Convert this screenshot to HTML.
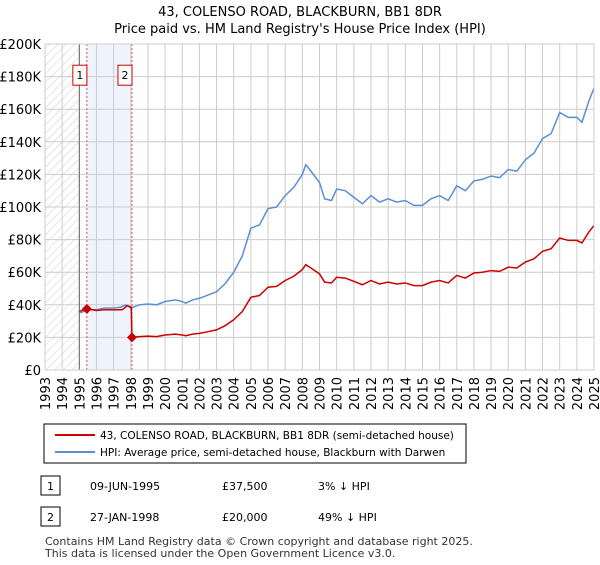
<!DOCTYPE html>
<html><head><meta charset="utf-8"><style>
body{margin:0;background:#fff;font-family:"Liberation Sans","DejaVu Sans",sans-serif;}
svg text{font-family:"DejaVu Sans","Liberation Sans",sans-serif;}
</style></head><body>
<svg width="600" height="560" viewBox="0 0 600 560" xmlns="http://www.w3.org/2000/svg">
<defs><pattern id="hatch" width="6" height="6" patternUnits="userSpaceOnUse" patternTransform="rotate(45)"><line x1="0" y1="0" x2="0" y2="6" stroke="#ccc" stroke-width="1"/></pattern></defs>
<text x="300" y="16" text-anchor="middle" font-size="13">43, COLENSO ROAD, BLACKBURN, BB1 8DR</text>
<text x="300" y="33" text-anchor="middle" font-size="13">Price paid vs. HM Land Registry's House Price Index (HPI)</text>
<g id="plot"></g>
<g>
<rect x="44" y="424" width="422" height="39" fill="#fff" stroke="#000" stroke-width="1"/>
<line x1="55" y1="435" x2="95" y2="435" stroke="#cc0000" stroke-width="2"/>
<text x="100" y="439" font-size="10.5">43, COLENSO ROAD, BLACKBURN, BB1 8DR (semi-detached house)</text>
<line x1="55" y1="452" x2="95" y2="452" stroke="#5b8fd4" stroke-width="2"/>
<text x="100" y="456" font-size="10.5">HPI: Average price, semi-detached house, Blackburn with Darwen</text>
</g>
<g font-size="11">
<rect x="41" y="476" width="19" height="19" fill="#fff" stroke="#000"/><text x="50.5" y="490" text-anchor="middle">1</text>
<text x="90" y="490">09-JUN-1995</text><text x="222" y="490">£37,500</text><text x="318" y="490">3% ↓ HPI</text>
<rect x="41" y="507" width="19" height="19" fill="#fff" stroke="#000"/><text x="50.5" y="521" text-anchor="middle">2</text>
<text x="90" y="521">27-JAN-1998</text><text x="222" y="521">£20,000</text><text x="318" y="521">49% ↓ HPI</text>
</g>
<text x="45" y="545" font-size="11" fill="#333">Contains HM Land Registry data © Crown copyright and database right 2025.</text>
<text x="45" y="557" font-size="11" fill="#333">This data is licensed under the Open Government Licence v3.0.</text>
</svg>
<script>
const yTicks=[0,20,40,60,80,100,120,140,160,180,200];
const yTickLabels=["£0","£20K","£40K","£60K","£80K","£100K","£120K","£140K","£160K","£180K","£200K"];
const years=[1993,1994,1995,1996,1997,1998,1999,2000,2001,2002,2003,2004,2005,2006,2007,2008,2009,2010,2011,2012,2013,2014,2015,2016,2017,2018,2019,2020,2021,2022,2023,2024,2025];
const hpiT=[1995.0,1995.3,1995.5,1996,1996.5,1997,1997.4,1997.7,1998,1998.5,1999,1999.5,2000,2000.6,2001,2001.2,2001.6,2002,2002.5,2003,2003.5,2004,2004.5,2005,2005.5,2006,2006.5,2007,2007.5,2008,2008.2,2008.5,2009,2009.3,2009.7,2010,2010.5,2011,2011.5,2012,2012.5,2013,2013.5,2014,2014.5,2015,2015.5,2016,2016.5,2017,2017.5,2018,2018.5,2019,2019.5,2020,2020.5,2021,2021.5,2022,2022.5,2023,2023.5,2024,2024.3,2024.7,2025];
const hpiV=[35,36,37,37,38,38,38.5,40,38,40,40.5,40,42,43,42,41,43,44,46,48,53,60,70,87,89,99,100,107,112,120,126,122,115,105,104,111,110,106,102,107,103,105,103,104,101,101,105,107,104,113,110,116,117,119,118,123,122,129,133,142,145,158,155,155,152,165,173];
const priceT=[1995.0,1995.44,1996,1996.5,1997,1997.5,1997.8,1998.03,1998.07,1998.5,1999,1999.5,2000,2000.6,2001,2001.2,2001.6,2002,2002.5,2003,2003.5,2004,2004.5,2005,2005.5,2006,2006.5,2007,2007.5,2008,2008.2,2008.5,2009,2009.3,2009.7,2010,2010.5,2011,2011.5,2012,2012.5,2013,2013.5,2014,2014.5,2015,2015.5,2016,2016.5,2017,2017.5,2018,2018.5,2019,2019.5,2020,2020.5,2021,2021.5,2022,2022.5,2023,2023.5,2024,2024.3,2024.7,2025];
const priceV=[36,37.5,36.5,37,37,37,39.5,38.5,20,20.5,20.8,20.5,21.5,22,21.5,21,22,22.5,23.5,24.6,27.2,30.8,35.9,44.6,45.7,50.8,51.3,54.9,57.5,61.6,64.6,62.6,59,53.9,53.4,56.9,56.4,54.4,52.3,54.9,52.8,53.9,52.8,53.4,51.8,51.8,53.9,54.9,53.4,58,56.4,59.5,60,61,60.5,63.1,62.6,66.2,68.2,72.8,74.4,81,79.5,79.5,78,84.6,88.7];
const sales=[[1995.44,37.5,"1"],[1998.07,20,"2"]];
const L=45,R=594,T=44,B=370;
const x=t=>L+(t-1993)/(2025-1993)*(R-L);
const y=v=>B-v/200*(B-T);
const NS="http://www.w3.org/2000/svg";
const g=document.getElementById('plot');
function mk(tag,attrs,parent){const e=document.createElementNS(NS,tag);for(const k in attrs)e.setAttribute(k,attrs[k]);(parent||g).appendChild(e);return e;}
let e;
e=mk('rect',{x:x(1993),y:T,width:x(1995)-x(1993),height:B-T,fill:'url(#hatch)'});


e=mk('rect',{x:x(sales[0][0]),y:T,width:x(sales[1][0])-x(sales[0][0]),height:B-T,fill:'#eef3fc'});


yTicks.forEach((v,i)=>{
 e=mk('line',{x1:L,x2:R,y1:y(v),y2:y(v),stroke:'#ccc'});
 
 
 e=mk('text',{x:L-4,y:y(v)+5,'text-anchor':'end','font-size':'13'});e.textContent=yTickLabels[i];
 
 
});
years.forEach(yr=>{
 e=mk('line',{x1:x(yr),x2:x(yr),y1:T,y2:B,stroke:'#ccc'});
 
 
 e=mk('text',{x:0,y:0,'text-anchor':'end','font-size':'13',transform:`translate(${x(yr)+5},${B+7}) rotate(-90)`});e.textContent=yr;
 
 
});
e=mk('line',{x1:x(1995),x2:x(1995),y1:T,y2:B,stroke:'#666'});


sales.forEach(s=>{
 e=mk('line',{x1:x(s[0]),x2:x(s[0]),y1:T,y2:B,stroke:'#e05050','stroke-dasharray':'2,2'});
 
 
});
e=mk('polyline',{points:hpiT.map((t,i)=>x(t)+','+y(hpiV[i])).join(' '),fill:'none',stroke:'#5b8fd4','stroke-width':'1.5'});


e=mk('polyline',{points:priceT.map((t,i)=>x(t)+','+y(priceV[i])).join(' '),fill:'none',stroke:'#cc0000','stroke-width':'1.5'});


sales.forEach(s=>{
 const cx=x(s[0]),cy=y(s[1]);
 e=mk('polygon',{points:`${cx},${cy-5} ${cx+5},${cy} ${cx},${cy+5} ${cx-5},${cy}`,fill:'#cc0000'});
 
 
 e=mk('rect',{x:cx-14,y:y(187),width:14,height:20,fill:'#fff',stroke:'#cc0000'});
 
 
 e=mk('text',{x:cx-7,y:y(187)+14,'text-anchor':'middle','font-size':'11'});e.textContent=s[2];
 
 
});
e=mk('rect',{x:L,y:T,width:R-L,height:B-T,fill:'none',stroke:'#ccc'});


</script>
</body></html>
